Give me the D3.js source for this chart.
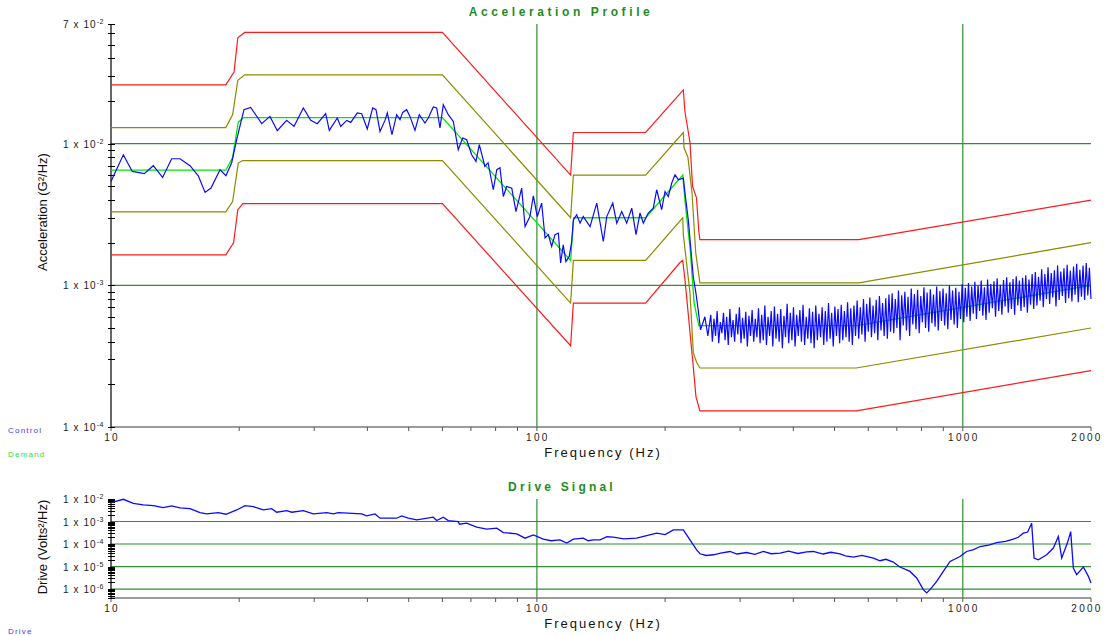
<!DOCTYPE html>
<html>
<head>
<meta charset="utf-8">
<script src="https://cdn.jsdelivr.net/npm/d3@7"></script>
<style>
  body { margin: 0; background: #fff; }
  svg { font-family: "Liberation Sans", Arial, sans-serif; }
</style>
</head>
<body>
<div id="target"></div>
<script>
// acceleration values are in units of 1e-3 G^2/Hz, frequencies in Hz
var demand = [[10,6.5],[18.6,6.5],[19.3,8.0],[19.9,14.2],[20.5,15.3],[60,15.3],[120,1.5],[122,3.0],[180,3.0],[220,6.0],[223,3.8],[229,1.8],[234,0.75],[240,0.52],[565,0.52],[2000,1.0]];

var upperAbort = [[10,26],[18.6,26],[19.45,32],[19.85,56],[20.6,61],[60,61],[120,6.0],[121.8,12],[180,12],[220.7,24],[222.7,16.8],[228.8,10.2],[232,5.0],[237,4.15],[240,2.4],[241.4,2.1],[570,2.1],[2000,4.0]];
var upperAlarm = [[10,13],[18.6,13],[19.3,16],[19.85,28],[20.6,30.6],[60,30.6],[120,3.0],[121.8,6.0],[180,6.0],[220.7,12],[221.5,9.4],[226.3,8.0],[231.3,4.5],[236,1.7],[241.4,1.04],[570,1.04],[2000,2.0]];
var lowerAlarm = [[10,3.3],[18.6,3.3],[19.3,3.9],[19.9,7.3],[20.4,7.6],[60,7.6],[120,0.75],[121.8,1.5],[180,1.5],[220,3.0],[220.7,2.28],[228.8,0.885],[233,0.333],[237,0.288],[241.4,0.261],[562,0.261],[2000,0.5]];
var lowerAbort = [[10,1.64],[18.6,1.64],[19.4,2.0],[19.85,3.42],[20.4,3.77],[60,3.77],[120,0.375],[121.8,0.75],[180,0.75],[216.8,1.45],[220,1.5],[222.7,1.09],[232.9,0.267],[236.3,0.164],[241.4,0.13],[562,0.13],[2000,0.25]];

// measured control, 10 .. 252 Hz
var controlLow = [[10.0,5.42],[10.69,8.36],[11.22,6.37],[11.97,6.14],[12.57,6.99],[13.22,5.78],[13.88,7.83],[14.52,7.83],[15.33,6.99],[16.03,5.94],[16.63,4.53],[17.17,4.86],[18.03,6.55],[18.62,5.94],[19.20,7.34],[19.73,10.67],[20.52,17.39],[21.28,18.05],[22.59,13.85],[23.62,15.59],[24.57,12.36],[25.85,14.61],[26.90,13.25],[28.29,17.88],[29.44,14.61],[30.50,13.85],[31.92,16.29],[32.55,12.42],[33.99,15.19],[34.62,13.25],[35.76,14.61],[36.55,14.14],[37.87,16.48],[38.78,16.29],[39.97,12.70],[41.16,17.88],[41.90,17.39],[42.82,12.21],[43.99,14.61],[44.54,16.48],[45.68,11.58],[46.85,16.03],[47.70,14.78],[48.40,16.64],[49.45,17.39],[50.35,15.59],[51.73,12.42],[52.95,16.03],[54.60,14.00],[55.59,15.19],[57.11,18.17],[58.17,17.88],[59.22,12.91],[60.28,18.86],[61.94,16.03],[63.63,14.37],[65.37,9.07],[66.94,10.97],[68.41,10.67],[70.28,8.36],[71.94,7.50],[73.24,9.84],[75.5,6.91],[76.8,7.34],[79.0,4.73],[80.5,6.55],[81.9,6.77],[83.4,4.24],[84.9,4.99],[87.3,4.86],[89.3,3.32],[92.1,4.86],[93.8,2.60],[96.3,3.06],[98.1,4.29],[100.2,3.06],[102.6,3.81],[104.5,2.16],[106.4,2.28],[108.3,1.88],[110.3,2.28],[112.3,2.34],[113.7,1.44],[115.3,1.93],[117.0,1.47],[119.1,1.60],[120.7,2.04],[121.8,2.90],[124.0,3.15],[126.3,2.75],[128.5,3.06],[130.9,2.82],[133.3,2.60],[138.2,3.81],[143.2,2.04],[145.9,3.06],[150.7,3.81],[154.0,2.75],[158.2,3.32],[162.5,2.75],[167.0,3.51],[170.9,2.28],[174.6,3.24],[177.8,2.75],[182.6,3.24],[187.6,3.51],[191.1,4.73],[196.3,3.42],[199.9,4.60],[203.5,4.24],[207.3,5.28],[211.0,6.04],[214.8,5.57],[220.7,5.72],[222.7,4.48],[226.7,2.90],[229.6,1.88],[232.9,1.15],[236.3,0.88],[239.2,0.67],[242.3,0.485],[248.0,0.60],[252,0.44]];

// measured control, 256 .. 2000 Hz, on evenly spaced log-frequency lines
var controlHighStart = 256, controlHighEnd = 2000;
var controlHigh = [
  0.62,0.40,0.58,0.44,0.66,0.39,0.55,0.46,0.64,0.41,0.60,0.38,0.68,0.43,0.57,0.40,0.63,0.45,0.70,0.39,0.59,0.42,0.65,0.37,0.61,0.44,0.67,0.40,0.58,0.43,
  0.69,0.39,0.62,0.41,0.72,0.38,0.60,0.44,0.66,0.37,0.71,0.42,0.63,0.40,0.68,0.36,0.61,0.43,0.74,0.39,0.64,0.41,0.70,0.37,0.62,0.44,0.67,0.40,0.73,0.38,0.60,0.42,0.69,0.39,0.65,0.36,0.72,0.41,0.63,0.43,0.70,0.38,0.66,0.40,0.75,0.42,0.64,0.37,0.71,0.44,0.68,0.39,0.73,0.41,0.66,0.43,0.76,0.40,0.69,0.38,0.72,0.44,
  0.78,0.42,0.70,0.45,0.80,0.40,0.74,0.47,0.82,0.43,0.72,0.46,0.79,0.41,0.84,0.48,0.75,0.44,0.81,0.42,0.86,0.47,
  0.88,0.46,0.80,0.50,0.92,0.41,0.85,0.52,0.90,0.48,0.83,0.44,0.95,0.53,0.87,0.49,0.93,0.46,0.84,0.55,0.97,0.50,0.89,0.47,0.94,0.54,0.86,0.51,0.98,0.48,0.91,0.56,0.95,0.52,0.88,0.49,1.00,0.57,0.92,0.53,0.96,0.50,0.90,0.58,1.02,0.55,
  0.96,0.60,1.04,0.56,0.98,0.63,1.06,0.58,1.00,0.66,1.08,0.61,0.97,0.57,1.10,0.64,1.02,0.69,1.07,0.60,1.12,0.66,1.01,0.62,1.09,0.71,1.14,0.64,1.05,0.68,1.11,0.62,1.16,0.72,1.08,0.66,1.13,0.70,1.18,0.64,1.10,0.73,1.20,0.68,
  1.24,0.72,1.15,0.78,1.30,0.70,1.20,0.80,1.34,0.74,1.22,0.82,1.28,0.71,1.38,0.79,1.25,0.84,1.32,0.75,1.40,0.81,1.27,0.77,1.36,0.86,1.42,0.76,1.29,0.83,1.38,0.79,1.44,0.85,1.33,0.80
];

// drive signal, Volts^2/Hz
var drive = [[10,6.9e-3],[10.69,9.7e-3],[11.28,6.45e-3],[11.91,5.43e-3],[12.57,5.06e-3],[13.27,4.12e-3],[13.88,4.9e-3],[14.52,4.0e-3],[15.33,3.72e-3],[16.18,2.48e-3],[16.78,2.17e-3],[17.86,2.48e-3],[18.62,2.10e-3],[19.73,3.26e-3],[20.64,5.06e-3],[21.59,4.56e-3],[22.79,3.26e-3],[23.84,3.72e-3],[24.49,2.58e-3],[25.85,3.03e-3],[26.57,2.58e-3],[28.29,3.03e-3],[29.85,2.17e-3],[32.10,2.48e-3],[33.27,2.17e-3],[34.18,2.48e-3],[38.78,2.17e-3],[39.84,1.77e-3],[41.68,2.17e-3],[42.82,1.40e-3],[46.85,1.40e-3],[48.14,1.77e-3],[49.89,1.40e-3],[52.21,1.18e-3],[57.11,1.55e-3],[58.17,1.10e-3],[60.28,1.55e-3],[61.94,1.10e-3],[65.37,9.9e-4],[65.79,7.6e-4],[68.41,8.4e-4],[72.22,5.6e-4],[76.23,4.56e-4],[80.5,5.06e-4],[83.4,3.23e-4],[89.7,2.83e-4],[93.8,1.82e-4],[98.1,2.55e-4],[103.5,1.65e-4],[108,1.4e-4],[113.3,1.53e-4],[117.5,1.10e-4],[121.8,1.65e-4],[128.5,1.82e-4],[132,1.4e-4],[135.7,1.53e-4],[140.7,1.53e-4],[146,2.1e-4],[151.2,2.02e-4],[160,1.7e-4],[171.5,1.82e-4],[180,2.3e-4],[191.1,3.03e-4],[200,2.6e-4],[209.1,4.25e-4],[220.7,4.25e-4],[228.8,1.53e-4],[237.2,5.5e-5],[241.5,3.68e-5],[250,3.1e-5],[259.6,3.33e-5],[270,3.9e-5],[284,4.66e-5],[295,3.6e-5],[310.8,4.2e-5],[325,3.5e-5],[340.1,4.66e-5],[355,3.7e-5],[372.3,3.95e-5],[390,4.8e-5],[410,3.8e-5],[430,4.5e-5],[445.7,4.66e-5],[470,3.6e-5],[490,4.3e-5],[514.9,3.68e-5],[530,3.0e-5],[553.4,2.63e-5],[580,3.1e-5],[616.6,2.38e-5],[639.3,1.81e-5],[660,2.1e-5],[686.8,1.58e-5],[700,1.2e-5],[712.2,9.5e-6],[751.8,6.07e-6],[779.5,3.1e-6],[807.8,9.4e-7],[822.8,6.7e-7],[837.6,9.4e-7],[868.4,2.19e-6],[900,6.07e-6],[933.3,1.68e-5],[985.1,2.8e-5],[1021,4.66e-5],[1060,5.6e-5],[1098,7.75e-5],[1150,9.0e-5],[1201,1.16e-4],[1260,1.3e-4],[1314,1.65e-4],[1350,2.0e-4],[1387,3.03e-4],[1420,3.4e-4],[1451,8.4e-4],[1470,2.38e-5],[1504,2.0e-5],[1574,3.33e-5],[1632,6.6e-5],[1676,2.15e-4],[1707,2.38e-5],[1760,1.10e-4],[1792,3.57e-4],[1818,8.6e-6],[1851,4.34e-6],[1919,9.5e-6],[1972,3.65e-6],[2000,1.86e-6]];

var freqLabelVals = [10, 100, 1000, 2000];
var freqGrid = [100, 1000];
var accLabelVals = [0.1, 1, 10, 70];
var accLabels = [["1","-4"],["1","-3"],["1","-2"],["7","-2"]];
var accGrid = [1, 10];
var driveLabelVals = [1e-6, 1e-5, 1e-4, 1e-3, 1e-2];
var driveLabels = [["1","-6"],["1","-5"],["1","-4"],["1","-3"],["1","-2"]];
var driveGrid = [1e-6, 1e-5, 1e-4, 1e-3];

var GREEN = "#2f8f2f";

var svg = d3.select('#target').append('svg')
    .attr('width', 1106).attr('height', 636);

var x = d3.scaleLog().domain([10, 2000]).range([111, 1091]);
var yAcc = d3.scaleLog().domain([0.1, 70]).range([427, 24]);
var yDrv = d3.scaleLog().domain([4e-7, 1e-2]).range([598, 499]);

function panel(y, gridVals, labelVals, labels) {
    var top = y.range()[1], bottom = y.range()[0];
    var g = svg.append('g');

    g.selectAll('.hg').data(gridVals).enter().append('line')
        .attr('x1', 111).attr('x2', 1091)
        .attr('y1', function(d){ return y(d); }).attr('y2', function(d){ return y(d); })
        .attr('stroke', GREEN).attr('stroke-width', 1.2);
    g.selectAll('.vg').data(freqGrid).enter().append('line')
        .attr('x1', function(d){ return x(d); }).attr('x2', function(d){ return x(d); })
        .attr('y1', top).attr('y2', bottom)
        .attr('stroke', GREEN).attr('stroke-width', 1.2);

    // axes
    g.append('line').attr('x1', 111).attr('x2', 1091).attr('y1', bottom).attr('y2', bottom)
        .attr('stroke', '#7a7a7a').attr('stroke-width', 1.5);
    g.append('line').attr('x1', 111).attr('x2', 111).attr('y1', top).attr('y2', bottom)
        .attr('stroke', '#000').attr('stroke-width', 1.2);

    g.selectAll('.xt').data(x.ticks()).enter().append('line')
        .attr('x1', function(d){ return x(d); }).attr('x2', function(d){ return x(d); })
        .attr('y1', bottom).attr('y2', bottom + 4)
        .attr('stroke', '#555').attr('stroke-width', 1);
    g.selectAll('.yt').data(y.ticks()).enter().append('line')
        .attr('x1', 108).attr('x2', 115)
        .attr('y1', function(d){ return Math.round(y(d)) + 0.5; })
        .attr('y2', function(d){ return Math.round(y(d)) + 0.5; })
        .attr('stroke', '#000').attr('stroke-width', 1);

    // y labels  "1 x 10^-n"
    var t = g.selectAll('.yl').data(labelVals).enter().append('text')
        .attr('x', 104).attr('y', function(d){ return y(d) + 4; })
        .attr('text-anchor', 'end').attr('font-size', 10)
        .attr('letter-spacing', 1.1).attr('fill', '#222');
    t.append('tspan').text(function(d, i){ return labels[i][0] + ' x 10'; });
    t.append('tspan').attr('dy', -4).attr('font-size', 7).attr('letter-spacing', 0.5)
        .text(function(d, i){ return labels[i][1]; });

    // x labels (last one pulled in so it stays on the page)
    g.selectAll('.xl').data(freqLabelVals).enter().append('text')
        .attr('x', function(d){ return d === 2000 ? x(d) - 4 : x(d) + 1; })
        .attr('y', bottom + 14)
        .attr('text-anchor', 'middle').attr('font-size', 10)
        .attr('letter-spacing', 2.3).attr('fill', '#222')
        .text(function(d){ return d; });

    g.append('text').attr('x', 603).attr('y', bottom + 30)
        .attr('text-anchor', 'middle').attr('font-size', 13)
        .attr('letter-spacing', 2).attr('fill', '#111')
        .text('Frequency (Hz)');
    return g;
}

panel(yAcc, accGrid, accLabelVals, accLabels);
panel(yDrv, driveGrid, driveLabelVals, driveLabels);

var lineAcc = d3.line().x(function(d){ return x(d[0]); }).y(function(d){ return yAcc(d[1]); });
var lineDrv = d3.line().x(function(d){ return x(d[0]); }).y(function(d){ return yDrv(d[1]); });

[[upperAbort, '#ff1a1a'], [lowerAbort, '#ff1a1a'], [upperAlarm, '#8c8c00'], [lowerAlarm, '#8c8c00']]
    .forEach(function(b){
        svg.append('path').datum(b[0]).attr('d', lineAcc)
            .attr('fill', 'none').attr('stroke', b[1]).attr('stroke-width', 1.2);
    });

svg.append('path').datum(demand).attr('d', lineAcc)
    .attr('fill', 'none').attr('stroke', '#00e600').attr('stroke-width', 1.3);

var n = controlHigh.length;
var control = controlLow.concat(controlHigh.map(function(v, i){
    return [controlHighStart * Math.pow(controlHighEnd / controlHighStart, i / (n - 1)), v];
}));
svg.append('path').datum(control).attr('d', lineAcc)
    .attr('fill', 'none').attr('stroke', '#0a0aff').attr('stroke-width', 1.2);

svg.append('path').datum(drive).attr('d', lineDrv)
    .attr('fill', 'none').attr('stroke', '#0a0aff').attr('stroke-width', 1.3);

// titles
svg.append('text').attr('x', 561).attr('y', 16).attr('text-anchor', 'middle')
    .attr('font-size', 12).attr('font-weight', 'bold').attr('letter-spacing', 3.6)
    .attr('fill', '#1e8c1e').text('Acceleration Profile');
svg.append('text').attr('x', 562).attr('y', 491).attr('text-anchor', 'middle')
    .attr('font-size', 12).attr('font-weight', 'bold').attr('letter-spacing', 3.2)
    .attr('fill', '#1e8c1e').text('Drive Signal');

svg.append('text').attr('transform', 'translate(47,212)rotate(-90)')
    .attr('text-anchor', 'middle').attr('font-size', 13).attr('fill', '#111')
    .text('Acceleration (G²/Hz)');
svg.append('text').attr('transform', 'translate(47,547)rotate(-90)')
    .attr('text-anchor', 'middle').attr('font-size', 13).attr('fill', '#111')
    .text('Drive (Volts²/Hz)');

// legend
[['Control', 433, '#3d3dff'], ['Demand', 457, '#33dd33'], ['Drive', 634, '#3d3dff']].forEach(function(l){
    svg.append('text').attr('x', 8).attr('y', l[1]).attr('font-size', 8)
        .attr('letter-spacing', 1.2).attr('fill', l[2]).text(l[0]);
});
</script>
</body>
</html>
